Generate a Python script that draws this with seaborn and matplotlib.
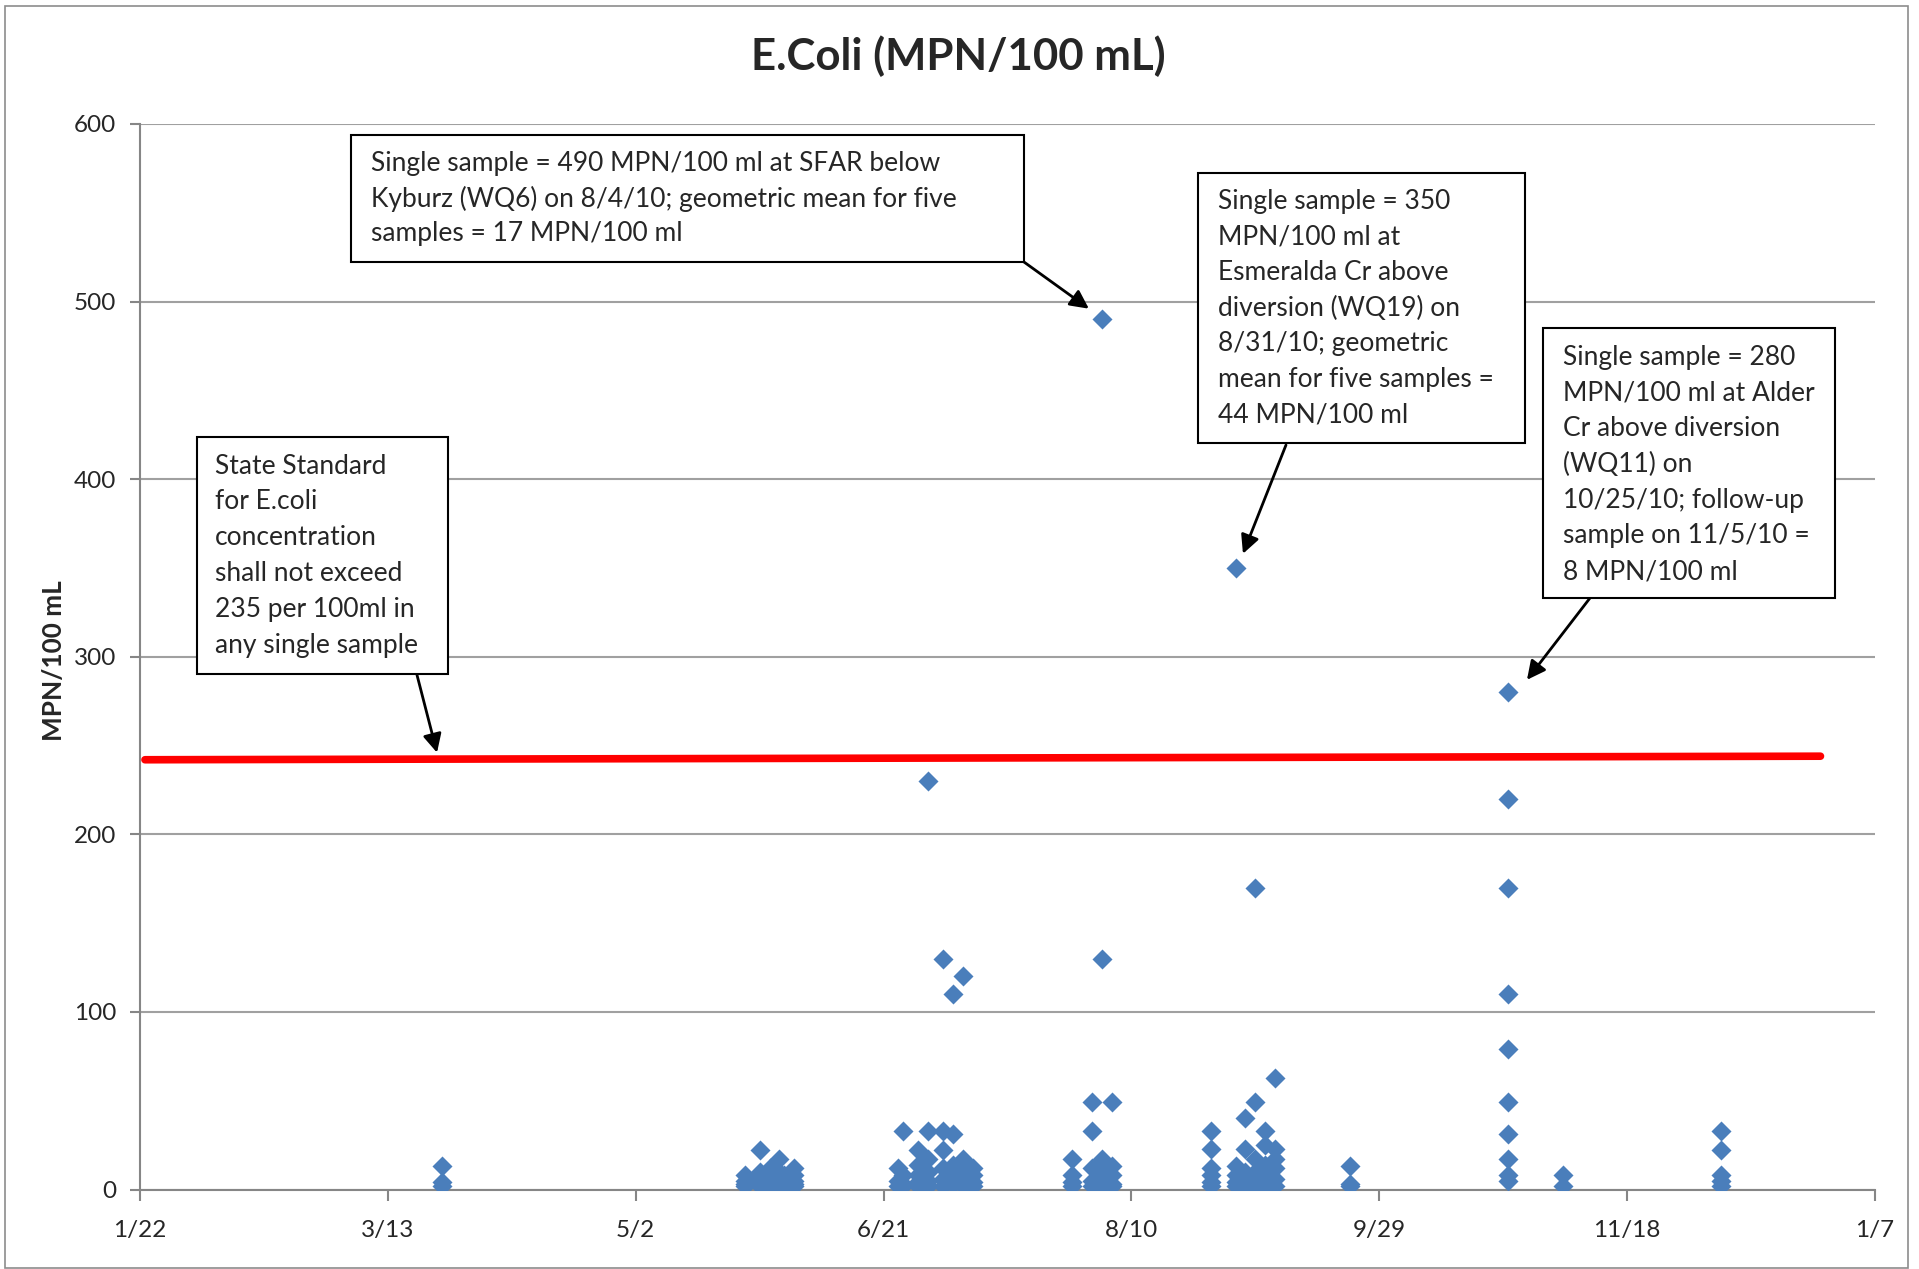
import seaborn as sns
import pandas as pd
import matplotlib.pyplot as plt
import matplotlib.dates as mdates
from matplotlib.patches import Rectangle

# sampling dates and the E.coli results read for each date (MPN/100 mL)
sample_dates = ["2010-03-24",
                "2010-05-24", "2010-05-27", "2010-05-29", "2010-05-31", "2010-06-01", "2010-06-03",
                "2010-06-24", "2010-06-25", "2010-06-28", "2010-06-30", "2010-07-03", "2010-07-05",
                "2010-07-07", "2010-07-09",
                "2010-07-29", "2010-08-02", "2010-08-04", "2010-08-06",
                "2010-08-26", "2010-08-31", "2010-09-02", "2010-09-04", "2010-09-06", "2010-09-08",
                "2010-09-23", "2010-10-25", "2010-11-05", "2010-12-07"]
sample_values = [[13, 4, 2],
                 [8, 5, 3, 2], [22, 10, 6, 3, 2], [12, 8, 4, 2], [17, 10, 5, 2], [8, 4, 2], [12, 8, 5, 3, 2],
                 [12, 5, 2], [33, 8, 3, 2], [22, 14, 8, 4, 2], [230, 33, 17, 10, 5, 2], [130, 33, 22, 12, 6, 2],
                 [110, 31, 14, 8, 3], [120, 17, 10, 5, 2], [12, 8, 4, 2],
                 [17, 8, 4, 2], [49, 33, 12, 5, 2], [490, 130, 17, 10, 4, 2], [49, 13, 8, 3, 2],
                 [33, 23, 12, 8, 4, 2], [350, 13, 8, 4, 2], [40, 23, 10, 5, 2], [170, 49, 17, 10, 5, 2],
                 [33, 25, 14, 8, 3, 2], [63, 23, 17, 12, 6, 2],
                 [13, 3, 2], [280, 220, 170, 110, 79, 49, 31, 17, 8, 5], [8, 2], [33, 22, 8, 5, 2]]

# red state standard line as drawn on the chart
standard_dates = ["2010-01-23", "2010-12-27"]
standard_values = [242, 244]

tick_dates = ["2010-01-22", "2010-03-13", "2010-05-02", "2010-06-21",
              "2010-08-10", "2010-09-29", "2010-11-18", "2011-01-07"]
tick_labels = ["1/22", "3/13", "5/2", "6/21", "8/10", "9/29", "11/18", "1/7"]

notes = [
    ["Single sample = 490 MPN/100 ml at SFAR below",
     "Kyburz (WQ6) on 8/4/10; geometric mean for five",
     "samples = 17 MPN/100 ml"],
    ["Single sample = 350", "MPN/100 ml at", "Esmeralda Cr above", "diversion (WQ19) on",
     "8/31/10; geometric", "mean for five samples =", "44 MPN/100 ml"],
    ["Single sample = 280", "MPN/100 ml at Alder", "Cr above diversion", "(WQ11) on",
     "10/25/10; follow-up", "sample on 11/5/10 =", "8 MPN/100 ml"],
    ["State Standard", "for E.coli", "concentration", "shall not exceed",
     "235 per 100ml in", "any single sample"],
]
note_tip_dates = ["2010-08-01 10:00", "2010-09-01 12:00", "2010-10-28 19:00", "2010-03-22 22:00"]
note_tip_values = [496, 358, 287, 246]

df = pd.DataFrame({"date": sample_dates, "mpn": sample_values}).explode("mpn")
df["date"] = pd.to_datetime(df["date"])
df["mpn"] = df["mpn"].astype(float)
std = pd.DataFrame({"date": pd.to_datetime(standard_dates), "mpn": standard_values})

sns.set_theme(style="white")
plt.rcParams["font.family"] = ["Lato", "DejaVu Sans"]

W, H = 1919, 1269
ax_l, ax_r, ax_t, ax_b = 140, 1875, 124, 1189.5
fig = plt.figure(figsize=(W / 100, H / 100), dpi=100)
ax = fig.add_axes([ax_l / W, 1 - ax_b / H, (ax_r - ax_l) / W, (ax_b - ax_t) / H])

sns.lineplot(data=std, x="date", y="mpn", color="#FF0000", lw=5.5, ax=ax, zorder=3)
sns.scatterplot(data=df, x="date", y="mpn", marker="D", s=104, color="#4A7EBB",
                linewidth=0, ax=ax, zorder=4)

ax.set_xlim(pd.Timestamp(tick_dates[0]), pd.Timestamp(tick_dates[-1]))
ax.set_ylim(0, 600)
ax.set_xticks(pd.to_datetime(tick_dates))
ax.set_xticklabels(tick_labels, fontsize=17.5)
ax.set_yticks(range(0, 601, 100))
ax.tick_params(axis="y", labelsize=17.5, length=7, width=1.5, color="#868686", direction="out", left=True, pad=10)
ax.tick_params(axis="x", length=8, width=1.5, color="#868686", direction="out", bottom=True, pad=14)
ax.grid(axis="y", color="#A0A0A0", lw=1.5)
ax.set_axisbelow(True)
for side in ["top", "right"]:
    ax.spines[side].set_visible(False)
for side in ["left", "bottom"]:
    ax.spines[side].set_color("#868686")
    ax.spines[side].set_linewidth(1.5)
ax.set_xlabel("")
ax.set_ylabel("MPN/100 mL", fontsize=18.8, fontweight="bold")
ax.yaxis.set_label_coords(-(ax_l - 66) / (ax_r - ax_l), (ax_b - 661) / (ax_b - ax_t))

fig.text(958 / W, 1 - 56 / H, "E.Coli (MPN/100 mL)", ha="center", va="center",
         fontsize=31.5, fontweight="bold")

# chart area border
fig.add_artist(Rectangle((5 / W, 1 / H), 1903 / W, 1 - 7 / H, transform=fig.transFigure,
                         fill=False, ec="#8C8C8C", lw=1.2))

# annotation boxes: (left, top, right, bottom) in pixels from top-left, text left, first line, line pitch, arrow start
boxes = [(351, 135, 1024, 262, 371, 163, 35.5, (1024, 262)),
         (1198, 173, 1525, 443, 1218, 201, 35.7, (1286, 445)),
         (1543, 328, 1835, 598, 1563, 357, 35.8, (1590, 598)),
         (197, 437, 448, 674, 215, 466, 35.8, (417, 675))]
for lines, (l, t, r, b, tx, ty, pitch, start), tip_d, tip_v in zip(notes, boxes, note_tip_dates, note_tip_values):
    fig.add_artist(Rectangle((l / W, 1 - b / H), (r - l) / W, (b - t) / H, transform=fig.transFigure,
                             fill=True, fc="white", ec="black", lw=1.5, zorder=5))
    for i, line in enumerate(lines):
        fig.text(tx / W, 1 - (ty + i * pitch) / H, line, ha="left", va="center", fontsize=19, zorder=6)
    ax.annotate("", xy=(mdates.date2num(pd.Timestamp(tip_d)), tip_v), xycoords="data",
                xytext=(start[0], H - start[1]), textcoords="figure pixels",
                arrowprops=dict(arrowstyle="-|>", color="black", lw=2, mutation_scale=28,
                                shrinkA=0, shrinkB=0), zorder=6)

fig.savefig("out.png", dpi=100)
